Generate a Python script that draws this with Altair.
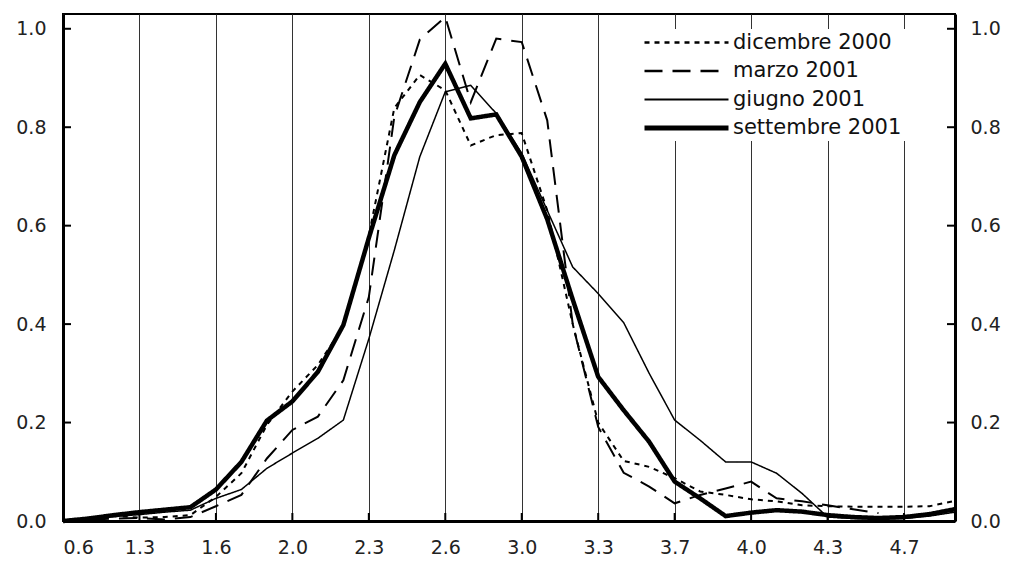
import altair as alt
import pandas as pd

tick_labels = ["0.6", "1.3", "1.6", "2.0", "2.3", "2.6", "3.0", "3.3", "3.7", "4.0", "4.3", "4.7"]
series_names = ["dicembre 2000", "marzo 2001", "giugno 2001", "settembre 2001"]
y_ticks = [0.0, 0.2, 0.4, 0.6, 0.8, 1.0]

dicembre_2000 = [0.000, 0.006, 0.010, 0.007, 0.008, 0.012, 0.049, 0.097, 0.195, 0.263,
                 0.317, 0.395, 0.580, 0.839, 0.906, 0.875, 0.763, 0.784, 0.788, 0.631,
                 0.400, 0.200, 0.122, 0.110, 0.087, 0.060, 0.053, 0.044, 0.040, 0.032,
                 0.030, 0.029, 0.029, 0.029, 0.030, 0.041]
marzo_2001 = [0.000, 0.002, 0.005, 0.006, 0.003, 0.008, 0.030, 0.053, 0.127, 0.185,
              0.212, 0.286, 0.455, 0.821, 0.978, 1.024, 0.851, 0.980, 0.973, 0.814,
              0.400, 0.191, 0.098, 0.070, 0.036, 0.053, 0.066, 0.080, 0.046, 0.040,
              0.032, 0.024, 0.016, None, None, None]
giugno_2001 = [0.000, 0.004, 0.009, 0.013, 0.018, 0.022, 0.046, 0.064, 0.107, 0.138,
               0.168, 0.205, 0.370, 0.550, 0.740, 0.872, 0.885, 0.828, 0.747, 0.631,
               0.516, 0.462, 0.403, 0.300, 0.205, 0.164, 0.120, 0.120, 0.097, 0.056,
               0.008, 0.005, 0.004, 0.005, 0.010, 0.018]
settembre_2001 = [0.000, 0.005, 0.012, 0.018, 0.023, 0.028, 0.064, 0.120, 0.204, 0.243,
                  0.303, 0.398, 0.575, 0.743, 0.851, 0.929, 0.818, 0.826, 0.740, 0.613,
                  0.450, 0.293, 0.225, 0.161, 0.080, 0.046, 0.010, 0.017, 0.022, 0.019,
                  0.012, 0.008, 0.006, 0.008, 0.014, 0.024]

all_series = [dicembre_2000, marzo_2001, giugno_2001, settembre_2001]
rows = []
for k, (name, vals) in enumerate(zip(series_names, all_series)):
    for i, v in enumerate(vals):
        if v is not None:
            rows.append({"idx": i, "series": name, "value": v, "order": k})
df = pd.DataFrame(rows)

n_points = len(settembre_2001)
tick_idx = [3 * k for k in range(len(tick_labels))]
label_expr = "[" + ",".join("'%s'" % t for t in tick_labels) + "][round(datum.value/3)]"

W, H = 892, 507
FONT = "DejaVu Sans"

widths = [2, 2, 1.5, 4.5]
legend_widths = [2.5, 2.5, 2, 5]
dashes = [[5, 5], [18, 10], [1, 0], [1, 0]]

# legend symbol widths follow the per-series widths
sw_expr = "".join(
    "datum.value === '%s' ? %s : " % (n, w) for n, w in zip(series_names, legend_widths)
) + "2"

xs = alt.Scale(domain=[0, n_points - 1], nice=False, zero=False)
ys = alt.Scale(domain=[0, 1.03], nice=False, zero=True)

legend = alt.Legend(
    orient="none", legendX=582, legendY=15, title=None,
    symbolType="M-1,0H5", symbolSize=784, symbolStrokeColor="black",
    symbolStrokeWidth={"expr": sw_expr},
    fillColor="white", padding=3, labelFontSize=21, labelFont=FONT,
    labelColor="#111", labelOffset=64, rowPadding=6.5, labelLimit=400,
    labelExpr="datum.label + '\u00a0\u00a0'",
)

lines = alt.Chart(df).mark_line(color="black", strokeCap="butt").encode(
    x=alt.X("idx:Q", scale=xs, title=None,
            axis=alt.Axis(values=tick_idx, labelExpr=label_expr, grid=True,
                          gridColor="#333", gridWidth=1, ticks=False,
                          domainColor="black", domainWidth=3, labelFont=FONT,
                          labelFontSize=19, labelColor="#222", labelPadding=17,
                          labelFontWeight="normal")),
    y=alt.Y("value:Q", scale=ys, title=None,
            axis=alt.Axis(values=y_ticks, format=".1f", grid=False, ticks=False,
                          domainColor="black", domainWidth=3, labelFont=FONT,
                          labelFontSize=19, labelColor="#222", labelPadding=17)),
    strokeDash=alt.StrokeDash("series:N", sort=series_names,
                              scale=alt.Scale(domain=series_names, range=dashes),
                              legend=legend),
    strokeWidth=alt.StrokeWidth("order:Q",
                                scale=alt.Scale(domain=[0, 1, 2, 3], range=widths),
                                legend=None),
    detail="series:N",
    order="order:Q",
)

yt = pd.DataFrame({"v": y_ticks})
xt = pd.DataFrame({"t": tick_idx})

right_ticks = alt.Chart(yt).mark_rule(color="black", strokeWidth=2).encode(
    y=alt.Y("v:Q", scale=ys, title=None,
            axis=alt.Axis(orient="right", values=y_ticks, format=".1f", grid=False,
                          ticks=False, domainColor="black", domainWidth=3,
                          labelFont=FONT, labelFontSize=19, labelColor="#222",
                          labelPadding=15)),
    x=alt.value(W - 8), x2=alt.value(W),
)
left_ticks = alt.Chart(yt).mark_rule(color="black", strokeWidth=2).encode(
    y=alt.Y("v:Q", scale=ys, axis=None),
    x=alt.value(0), x2=alt.value(8),
)
bottom_ticks = alt.Chart(xt).mark_rule(color="black", strokeWidth=2).encode(
    x=alt.X("t:Q", scale=xs, axis=None),
    y=alt.value(H - 8), y2=alt.value(H),
)

chart = alt.layer(lines, right_ticks, left_ticks, bottom_ticks).resolve_axis(
    y="independent", x="independent"
).properties(
    width=W, height=H,
    autosize=alt.AutoSizeParams(type="none"),
    padding={"left": 55, "top": 6, "right": 47, "bottom": 36},
).configure_view(stroke="black", strokeWidth=2)

chart.save("out.html", embed_options={"renderer": "svg", "actions": False})
